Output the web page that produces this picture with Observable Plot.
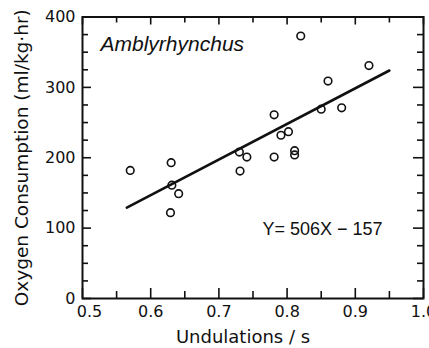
<!DOCTYPE html>
<html><head><meta charset="utf-8">
<script src="https://cdn.jsdelivr.net/npm/d3@7"></script>
<script src="https://cdn.jsdelivr.net/npm/@observablehq/plot@0.6"></script>
<style>body{margin:0;background:#fff}</style>
</head><body><div id="chart"></div>
<script>
// Data
const undulations = [0.570, 0.630, 0.631, 0.641, 0.629, 0.730, 0.741, 0.731, 0.781, 0.791, 0.802, 0.781, 0.811, 0.811, 0.850, 0.860, 0.880, 0.920, 0.820];
const oxygen      = [182,   193,   161,   149,   122,   208,   201,   181,   261,   232,   237,   201,   210,   204,   269,   309,   271,   331,   373];
const fitX = [0.565, 0.950];
const fitY = [129, 324];
const xMajorTicks = [0.5, 0.6, 0.7, 0.8, 0.9, 1.0];
const xMinorTicks = [0.55, 0.65, 0.75, 0.85, 0.95];
const xTickLabels = ["0.5", "0.6", "0.7", "0.8", "0.9", "1.0"];
const yMajorTicks = [0, 100, 200, 300, 400];
const yMinorTicks = [25, 50, 75, 125, 150, 175, 225, 250, 275, 325, 350, 375];
const yTickLabels = ["0", "100", "200", "300", "400"];
const species = "Amblyrhynchus";
const equation = "Y= 506X − 157";
const xTitle = "Undulations / s";
const yTitle = "Oxygen Consumption (ml/kg·hr)";

const W = 429, H = 348;
const mL = 82, mR = 6, mT = 16.5, mB = 50;
const pw = W - mL - mR, ph = H - mT - mB;
const pts = undulations.map((x, i) => ({x, y: oxygen[i]}));
const fit = fitX.map((x, i) => ({x, y: fitY[i]}));
const font = "DejaVu Sans, sans-serif";

const chart = Plot.plot({
  width: W, height: H,
  marginLeft: mL, marginRight: mR, marginTop: mT, marginBottom: mB,
  x: {domain: [0.5, 1.0], axis: null},
  y: {domain: [0, 400], axis: null},
  style: {fontFamily: font, background: "#fff", color: "#111"},
  marks: [
    // bottom ticks
    Plot.tickX(xMajorTicks, {x: d => d, insetTop: ph - 10, stroke: "#111", strokeWidth: 1.6}),
    Plot.tickX(xMinorTicks, {x: d => d, insetTop: ph - 7, stroke: "#111", strokeWidth: 1.6}),
    // top ticks
    Plot.tickX(xMajorTicks, {x: d => d, insetBottom: ph - 8, stroke: "#111", strokeWidth: 1.6}),
    Plot.tickX(xMinorTicks, {x: d => d, insetBottom: ph - 6, stroke: "#111", strokeWidth: 1.6}),
    // left ticks
    Plot.tickY(yMajorTicks, {y: d => d, insetRight: pw - 9, stroke: "#111", strokeWidth: 1.6}),
    Plot.tickY(yMinorTicks, {y: d => d, insetRight: pw - 6, stroke: "#111", strokeWidth: 1.6}),
    // right ticks
    Plot.tickY(yMajorTicks, {y: d => d, insetLeft: pw - 10, stroke: "#111", strokeWidth: 1.6}),
    Plot.tickY(yMinorTicks, {y: d => d, insetLeft: pw - 6, stroke: "#111", strokeWidth: 1.6}),
    Plot.frame({stroke: "#111", strokeWidth: 2}),
    // tick labels
    Plot.text(xMajorTicks.filter(d => d !== 0.5), {x: d => d, text: d => xTickLabels[xMajorTicks.indexOf(d)], frameAnchor: "bottom", lineAnchor: "top", dy: 7, fontSize: 16, fill: "#111"}),
    Plot.text([0.5], {x: d => d, text: d => xTickLabels[xMajorTicks.indexOf(d)], frameAnchor: "bottom", lineAnchor: "top", dy: 7, dx: 7, fontSize: 16, fill: "#111"}),
    Plot.text(yMajorTicks, {y: d => d, text: d => yTickLabels[yMajorTicks.indexOf(d)], frameAnchor: "left", textAnchor: "end", dx: -7, fontSize: 16, fill: "#111"}),
    // axis titles
    Plot.text([xTitle], {frameAnchor: "bottom", textAnchor: "middle", lineAnchor: "bottom", dy: 44, dx: -10, fontSize: 18, fill: "#111"}),
    Plot.text([yTitle], {frameAnchor: "left", textAnchor: "middle", rotate: -90, lineAnchor: "bottom", dx: -55, fontSize: 18.5, fill: "#111"}),
    // annotations
    Plot.text([species], {frameAnchor: "top-left", textAnchor: "start", lineAnchor: "bottom", dx: 18, dy: 33.5, fontSize: 21, fontStyle: "italic", fontFamily: "Liberation Sans, Arial, sans-serif", fill: "#111"}),
    Plot.text([equation], {frameAnchor: "top-left", textAnchor: "start", lineAnchor: "bottom", dx: 180, dy: 217.5, fontSize: 18, fontFamily: "Liberation Sans, Arial, sans-serif", fill: "#111"}),
    // data
    Plot.line(fit, {x: "x", y: "y", stroke: "#111", strokeWidth: 2.6}),
    Plot.dot(pts, {x: "x", y: "y", r: 3.8, stroke: "#111", strokeWidth: 1.6, fill: "none"})
  ]
});
document.getElementById("chart").appendChild(chart);
</script>
</body></html>
